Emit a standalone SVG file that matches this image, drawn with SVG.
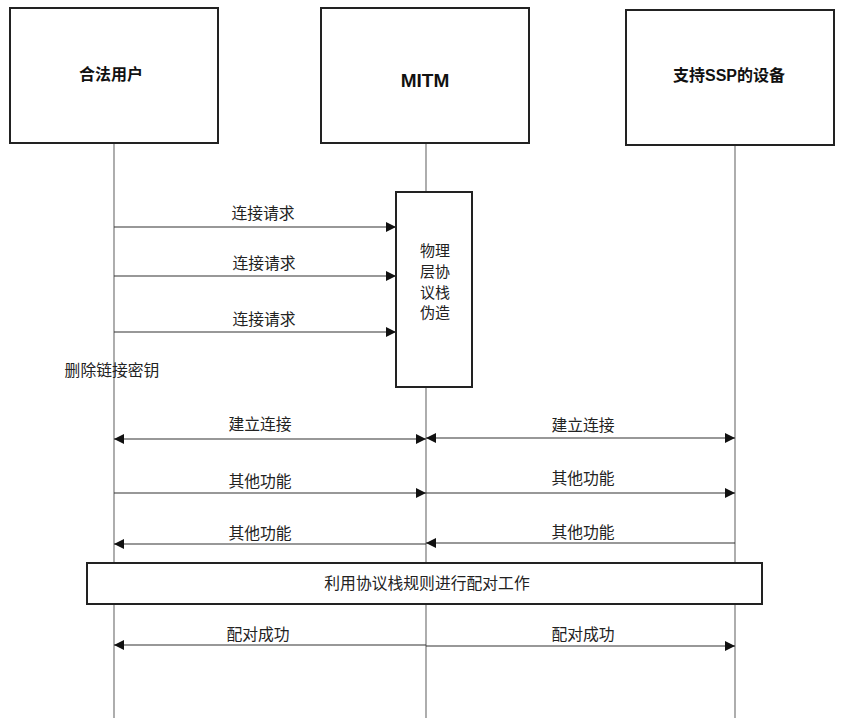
<svg xmlns="http://www.w3.org/2000/svg" width="844" height="727" viewBox="0 0 844 727">
<style>
.box{fill:#fff;stroke:#222;stroke-width:2}
.life{stroke:#777;stroke-width:1.2;fill:none}
.msg{stroke:#333;stroke-width:1.2;fill:none}
.t{font-family:"Noto Sans CJK SC","Liberation Sans",sans-serif;font-size:15.8px;fill:#222;text-anchor:middle}
.h{font-family:"Liberation Sans","Noto Sans CJK SC",sans-serif;font-size:16px;font-weight:bold;fill:#111;text-anchor:middle}
</style>
<defs>
<marker id="ah" viewBox="0 0 10 10" refX="10" refY="5" markerWidth="10" markerHeight="10" markerUnits="userSpaceOnUse" orient="auto-start-reverse"><path d="M0,0 L10,5 L0,10 z" fill="#111"/></marker>
</defs>
<rect width="844" height="727" fill="#fff"/>
<g id="lifelines">
<line class="life" x1="114" y1="143" x2="114" y2="718"/>
<line class="life" x1="426" y1="143" x2="426" y2="718"/>
<line class="life" x1="735" y1="145" x2="735" y2="718"/>
</g>
<g id="user"><rect class="box" x="10" y="8" width="208" height="135"/><text class="h" x="111" y="80">合法用户</text></g>
<g id="mitm"><rect class="box" x="321" y="8" width="208" height="135"/><text class="h" x="425" y="87" style="font-size:19px">MITM</text></g>
<g id="device"><rect class="box" x="626" y="10" width="208" height="135"/><text class="h" x="729" y="81">支持SSP的设备</text></g>
<g id="spoof"><rect class="box" x="396" y="192" width="76" height="195"/>
<text class="t" x="435" y="256" style="font-size:15px">物理</text><text class="t" x="435" y="277" style="font-size:15px">层协</text><text class="t" x="435" y="298" style="font-size:15px">议栈</text><text class="t" x="435" y="318" style="font-size:15px">伪造</text></g>
<g id="pairbox"><rect class="box" x="87" y="563" width="675" height="41"/><text class="t" x="427" y="589">利用协议栈规则进行配对工作</text></g>
<g id="connectors">
<line class="msg" x1="114" y1="227" x2="396" y2="227" marker-end="url(#ah)"/>
<line class="msg" x1="114" y1="276" x2="396" y2="276" marker-end="url(#ah)"/>
<line class="msg" x1="114" y1="332" x2="396" y2="332" marker-end="url(#ah)"/>
<line class="msg" x1="114" y1="439" x2="426" y2="439" marker-start="url(#ah)" marker-end="url(#ah)"/>
<line class="msg" x1="426" y1="438" x2="735" y2="438" marker-start="url(#ah)" marker-end="url(#ah)"/>
<line class="msg" x1="114" y1="493" x2="426" y2="493" marker-end="url(#ah)"/>
<line class="msg" x1="426" y1="493" x2="735" y2="493" marker-end="url(#ah)"/>
<line class="msg" x1="426" y1="544" x2="114" y2="544" marker-end="url(#ah)"/>
<line class="msg" x1="735" y1="543" x2="426" y2="543" marker-end="url(#ah)"/>
<line class="msg" x1="426" y1="645" x2="114" y2="645" marker-end="url(#ah)"/>
<line class="msg" x1="426" y1="646" x2="735" y2="646" marker-end="url(#ah)"/>
</g>
<g id="labels">
<text class="t" x="263" y="219">连接请求</text>
<text class="t" x="264" y="269">连接请求</text>
<text class="t" x="264" y="325">连接请求</text>
<text class="t" x="112" y="376">删除链接密钥</text>
<text class="t" x="260" y="430">建立连接</text>
<text class="t" x="583" y="431">建立连接</text>
<text class="t" x="260" y="487">其他功能</text>
<text class="t" x="583" y="484">其他功能</text>
<text class="t" x="260" y="539">其他功能</text>
<text class="t" x="583" y="538">其他功能</text>
<text class="t" x="258" y="640">配对成功</text>
<text class="t" x="583" y="640">配对成功</text>
</g>
</svg>
